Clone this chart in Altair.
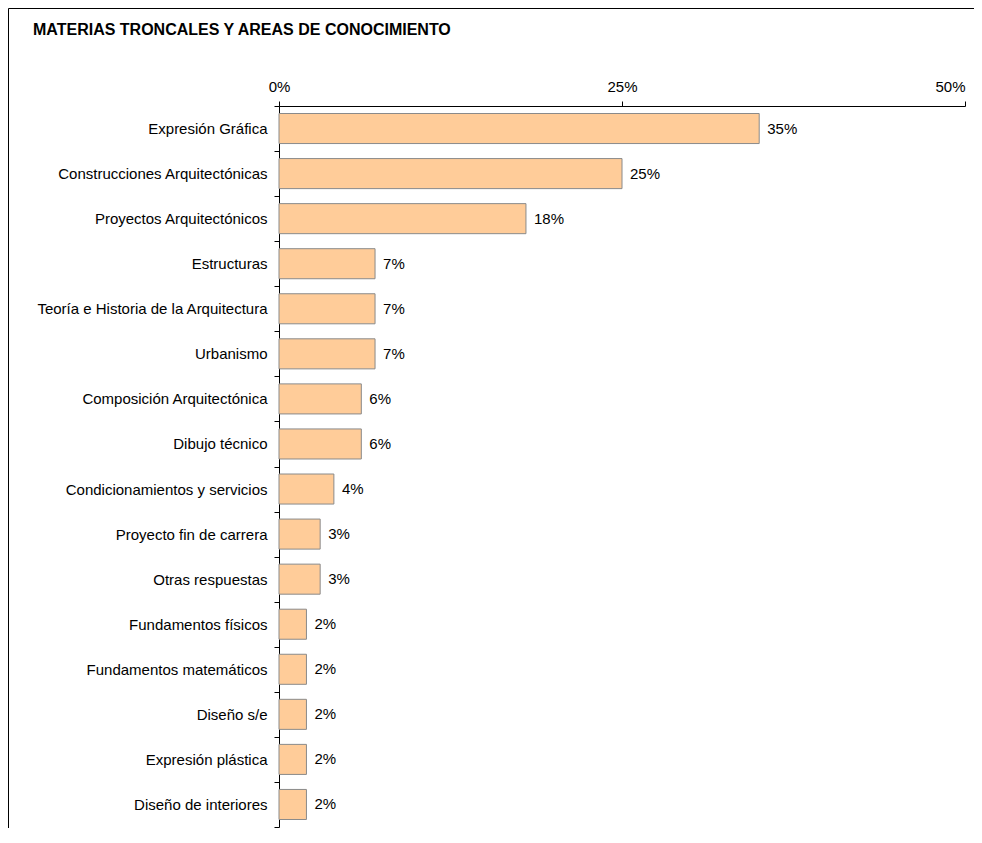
import altair as alt
import pandas as pd

title_text = "MATERIAS TRONCALES Y AREAS DE CONOCIMIENTO"
categories = [
    "Expresión Gráfica",
    "Construcciones Arquitectónicas",
    "Proyectos Arquitectónicos",
    "Estructuras",
    "Teoría e Historia de la Arquitectura",
    "Urbanismo",
    "Composición Arquitectónica",
    "Dibujo técnico",
    "Condicionamientos y servicios",
    "Proyecto fin de carrera",
    "Otras respuestas",
    "Fundamentos físicos",
    "Fundamentos matemáticos",
    "Diseño s/e",
    "Expresión plástica",
    "Diseño de interiores",
]
values = [35, 25, 18, 7, 7, 7, 6, 6, 4, 3, 3, 2, 2, 2, 2, 2]
x_ticks = [0, 25, 50]

df = pd.DataFrame({"cat": categories, "val": values})
df["label"] = df["val"].astype(str) + "%"

W, H = 686, 721
PL, PT, PR, PB = 271, 98, 9, 1
FONT = "Liberation Sans"
FS = 15

y_enc = alt.Y(
    "cat:N",
    sort=None,
    scale=alt.Scale(paddingInner=0, paddingOuter=0),
    axis=alt.Axis(
        title=None,
        tickBand="extent",
        tickSize=5,
        labelPadding=7,
        labelFontSize=FS,
        labelFont=FONT,
        labelColor="#000000",
        labelLimit=300,
        domainColor="#000000",
        tickColor="#000000",
    ),
)
x_enc = alt.X(
    "val:Q",
    scale=alt.Scale(domain=[0, 50], nice=False, zero=True),
    axis=alt.Axis(
        orient="top",
        title=None,
        values=x_ticks,
        labelExpr="datum.value + '%'",
        tickSize=5,
        labelPadding=7,
        labelFontSize=FS,
        labelFont=FONT,
        labelColor="#000000",
        labelAlign=alt.condition("datum.value >= 50", alt.value("right"), alt.value("center")),
        domainColor="#000000",
        tickColor="#000000",
        grid=False,
        labelFlush=False,
        labelOverlap=False,
    ),
)

base = alt.Chart(df)

bars = base.mark_bar(
    height=alt.RelativeBandSize(2 / 3),
    color="#FFCC99",
    stroke="#8a8a8a",
    strokeWidth=1,
).encode(x=x_enc, y=y_enc)

texts = base.mark_text(
    align="left", baseline="middle", dx=8, fontSize=FS, font=FONT, color="#000000"
).encode(
    x=alt.X("val:Q"),
    y=alt.Y("cat:N", sort=None),
    text="label:N",
)

title_df = pd.DataFrame({"t": [title_text]})
title = alt.Chart(title_df).mark_text(
    align="left", baseline="alphabetic", fontSize=16, fontWeight="bold", font=FONT, color="#000000"
).encode(x=alt.value(33 - 279), y=alt.value(35 - 106), text="t:N")

frame_left = alt.Chart(title_df).mark_rule(color="#000000", strokeWidth=1).encode(
    x=alt.value(-PL + 0.5), y=alt.value(-PT + 0.5), y2=alt.value(H + PB)
)
frame_top = alt.Chart(title_df).mark_rule(color="#000000", strokeWidth=1).encode(
    x=alt.value(-PL + 0.5), x2=alt.value(W + PR), y=alt.value(-PT + 0.5)
)

chart = (
    alt.layer(bars, texts, title, frame_left, frame_top)
    .properties(
        width=W,
        height=H,
        background="white",
        autosize=alt.AutoSizeParams(type="none"),
        padding={"left": PL, "top": PT, "right": PR, "bottom": PB},
    )
    .configure_view(strokeWidth=0, stroke="transparent")
)

chart.save("out.html", embed_options={"renderer": "svg", "actions": False})
